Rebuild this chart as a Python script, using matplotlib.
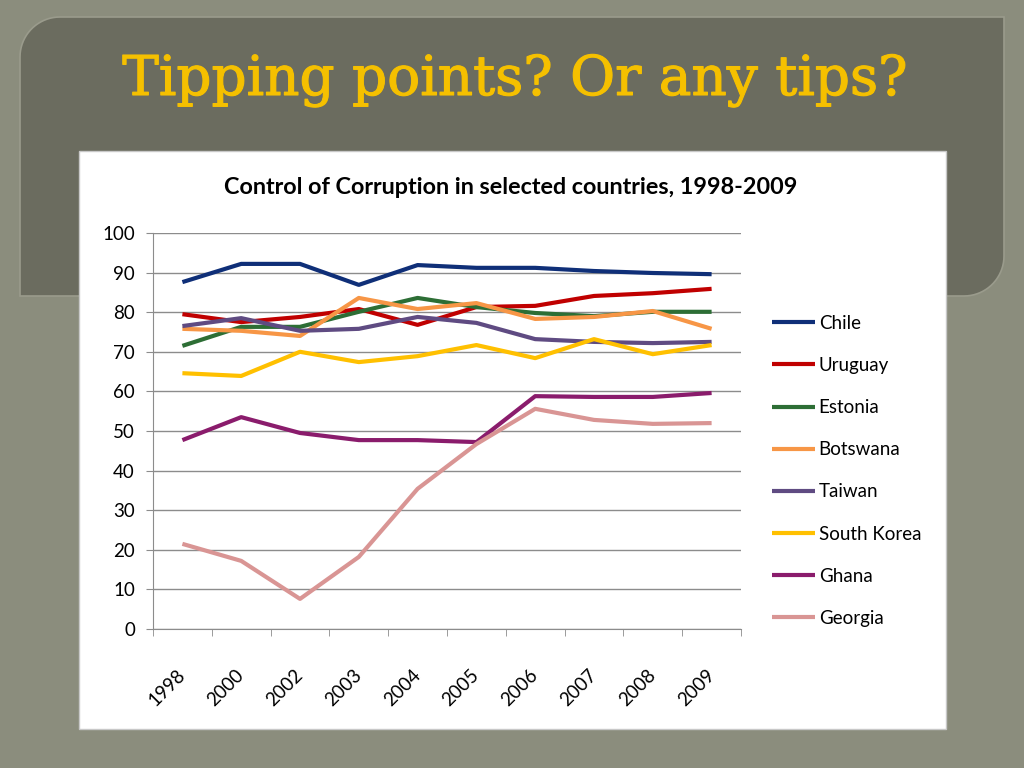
import matplotlib
matplotlib.use("Agg")
import matplotlib.pyplot as plt
import matplotlib.patheffects as pe
from matplotlib.patches import Rectangle, PathPatch
from matplotlib.path import Path
import numpy as np

# data
years = ["1998", "2000", "2002", "2003", "2004", "2005", "2006", "2007", "2008", "2009"]
chile = [87.6, 92.2, 92.2, 86.9, 91.9, 91.2, 91.2, 90.4, 89.9, 89.6]
uruguay = [79.5, 77.5, 78.8, 80.8, 76.8, 81.3, 81.6, 84.1, 84.8, 85.9]
estonia = [71.5, 76.3, 76.3, 80.1, 83.6, 81.3, 79.8, 79.0, 80.1, 80.1]
botswana = [75.8, 75.3, 74.0, 83.6, 80.8, 82.3, 78.3, 78.8, 80.3, 75.8]
taiwan = [76.5, 78.5, 75.3, 75.8, 78.8, 77.3, 73.2, 72.5, 72.2, 72.5]
south_korea = [64.6, 63.9, 70.0, 67.4, 68.9, 71.7, 68.4, 73.2, 69.4, 71.7]
ghana = [47.7, 53.5, 49.5, 47.7, 47.7, 47.2, 58.8, 58.6, 58.6, 59.6]
georgia = [21.5, 17.2, 7.6, 18.2, 35.4, 46.7, 55.6, 52.8, 51.8, 52.0]

series = [
    ("Chile", chile, "#0f2f78"),
    ("Uruguay", uruguay, "#c00000"),
    ("Estonia", estonia, "#2d6e35"),
    ("Botswana", botswana, "#f79646"),
    ("Taiwan", taiwan, "#5f4b82"),
    ("South Korea", south_korea, "#ffc000"),
    ("Ghana", ghana, "#8a1c6c"),
    ("Georgia", georgia, "#d99594"),
]

W, H = 1024, 768
fig = plt.figure(figsize=(W / 100, H / 100), dpi=100)
fig.patch.set_facecolor("#8b8d7d")

# background drawing layer in pixel coordinates
bg = fig.add_axes([0, 0, 1, 1])
bg.set_xlim(0, W)
bg.set_ylim(H, 0)
bg.axis("off")


def panel_path(x0, y0, x1, y1, r):
    # rounded top-left and bottom-right corners, square otherwise
    t1 = np.linspace(np.pi, 1.5 * np.pi, 20)
    t2 = np.linspace(0, 0.5 * np.pi, 20)
    pts = [(x0, y1)]
    pts += [(x0 + r + r * np.cos(t), y0 + r + r * np.sin(t)) for t in t1]
    pts += [(x1, y0)]
    pts += [(x1 - r + r * np.cos(t), y1 - r + r * np.sin(t)) for t in t2]
    pts.append((x0, y1))
    return Path(pts, closed=True)


bg.add_patch(PathPatch(panel_path(20, 17, 1004, 296, 40), facecolor="#6b6c5f",
                       edgecolor="#9a9b8c", linewidth=1.2))
bg.add_patch(Rectangle((79, 151), 867, 578, facecolor="white", edgecolor="#c8c8c8", linewidth=1))

bg.text(515, 95, "Tipping points? Or any tips?", fontsize=39.5, color="#f5c000",
        family="DejaVu Serif", ha="center", va="baseline",
        path_effects=[pe.withStroke(linewidth=0.8, foreground="#f5c000")])
bg.text(511, 188, "Control of Corruption in selected countries, 1998-2009", fontsize=16.8,
        fontweight="bold", family="Lato", color="black", ha="center", va="center")

ax = fig.add_axes([153 / W, (H - 629) / H, 588 / W, 396 / H])
ax.set_facecolor("none")
x = np.arange(len(years))
for name, vals, color in series:
    ax.plot(x, vals, color=color, linewidth=3, label=name, solid_capstyle="butt")

ax.set_xlim(-0.5, len(years) - 0.5)
ax.set_ylim(0, 100)
ax.set_yticks(range(0, 101, 10))
ax.yaxis.grid(True, color="#8c8c8c", linewidth=1)
ax.set_axisbelow(True)
ax.set_xticks(x)
ax.set_xticklabels(years, rotation=45, fontsize=13.5, family="Lato",
                   ha="right", va="center", rotation_mode="anchor")
ax.set_xticks(np.arange(-0.5, len(years)), minor=True)
ax.tick_params(axis="x", which="major", length=0, pad=31)
ax.tick_params(axis="x", which="minor", length=5, color="#8c8c8c")
ax.tick_params(axis="y", length=5, color="#8c8c8c", labelsize=13.5, pad=8)
for lbl in ax.get_yticklabels():
    lbl.set_family("Lato")
for side in ["top", "right"]:
    ax.spines[side].set_visible(False)
for side in ["left", "bottom"]:
    ax.spines[side].set_color("#8c8c8c")

leg = fig.legend(loc="upper left", bbox_to_anchor=(755 / W, 1 - 298 / H), frameon=False,
                 prop={"family": "Lato", "size": 13.5}, handlelength=2.3,
                 handletextpad=0.2, labelspacing=1.34)

fig.savefig("out.png", dpi=100, facecolor=fig.get_facecolor())
